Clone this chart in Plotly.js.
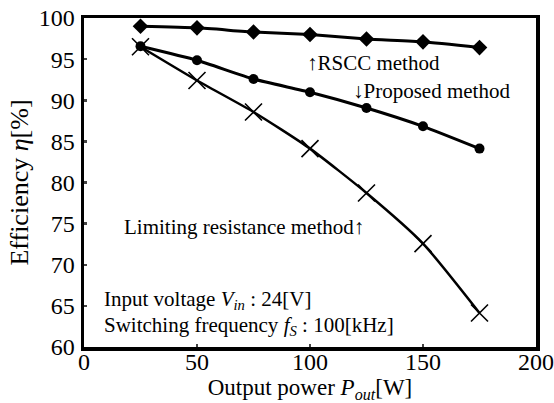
<!DOCTYPE html>
<html><head><meta charset="utf-8">
<script src="https://cdn.plot.ly/plotly-3.0.1.min.js"></script>
<style>html,body{margin:0;padding:0;background:#fff}#chart{width:554px;height:403px}</style>
</head><body><div id="chart"></div>
<script>
const power = [25, 50, 75, 100, 125, 150, 175];
const rsccEff = [99.0, 98.8, 98.3, 98.0, 97.45, 97.1, 96.4];
const proposedEff = [96.56, 94.86, 92.58, 90.97, 89.06, 86.83, 84.12];
const limitingEff = [96.5, 92.4, 88.57, 84.12, 78.72, 72.57, 64.13];
const xTicks = [0, 50, 100, 150, 200];
const yTicks = [60, 65, 70, 75, 80, 85, 90, 95, 100];

const FONT = 'Liberation Serif';
const traces = [
  {x: power, y: limitingEff, mode: 'lines+markers', line: {color: '#000', width: 2.5, shape: 'spline', smoothing: 0.6},
   marker: {symbol: 'x-thin-open', size: 17, color: '#000', line: {color: '#000', width: 1.6}}, name: 'Limiting resistance method'},
  {x: power, y: proposedEff, mode: 'lines+markers', line: {color: '#000', width: 3, shape: 'spline', smoothing: 0.5},
   marker: {symbol: 'circle', size: 10, color: '#000'}, name: 'Proposed method'},
  {x: power, y: rsccEff, mode: 'lines+markers', line: {color: '#000', width: 3, shape: 'spline', smoothing: 0.5},
   marker: {symbol: 'diamond', size: 12, color: '#000'}, name: 'RSCC method'}
];
const annFont = {family: FONT, size: 21, color: '#000'};
const layout = {
  width: 554, height: 403,
  margin: {l: 84, r: 18, t: 18, b: 56, pad: 0},
  paper_bgcolor: '#fff', plot_bgcolor: '#fff',
  showlegend: false,
  font: {family: FONT, color: '#000'},
  xaxis: {range: [0, 200], tickvals: xTicks, ticktext: xTicks.map(String), ticks: 'inside', ticklen: 3, tickwidth: 2.5,
    showline: true, linewidth: 3.5, linecolor: '#000', mirror: true, showgrid: false, zeroline: false,
    ticklabelstandoff: -9,
    tickfont: {family: FONT, size: 24, color: '#000'},
    title: {text: 'Output power <i>P<sub>out</sub></i>[W]', font: {family: FONT, size: 23, color: '#000'}, standoff: 3}},
  yaxis: {range: [60, 100], tickvals: yTicks, ticktext: yTicks.map(String), ticks: 'inside', ticklen: 3, tickwidth: 2.5,
    showline: true, linewidth: 3.5, linecolor: '#000', mirror: true, showgrid: false, zeroline: false,
    ticklabelstandoff: 1,
    tickfont: {family: FONT, size: 24, color: '#000'},
    title: {text: 'Efficiency <i>η</i>[%]', font: {family: FONT, size: 26, color: '#000'}, standoff: 3}},
  annotations: [
    {text: '↑RSCC method', x: 305, y: 63, xanchor: 'left', yanchor: 'middle', showarrow: false, font: annFont},
    {text: '↓Proposed method', x: 351, y: 91, xanchor: 'left', yanchor: 'middle', showarrow: false, font: annFont},
    {text: 'Limiting resistance method↑', x: 122, y: 227, xanchor: 'left', yanchor: 'middle', showarrow: false, font: annFont},
    {text: 'Input voltage <i>V<sub>in</sub></i> : 24[V]', x: 102, y: 300, xanchor: 'left', yanchor: 'middle', showarrow: false, font: annFont},
    {text: 'Switching frequency <i>f<sub>S</sub></i> : 100[kHz]', x: 102, y: 326, xanchor: 'left', yanchor: 'middle', showarrow: false, font: annFont}
  ]
};
const pl = layout.margin.l, pt = layout.margin.t;
const pw = 554 - layout.margin.l - layout.margin.r, ph = 403 - layout.margin.t - layout.margin.b;
layout.annotations.forEach(a => { a.xref = 'paper'; a.yref = 'paper'; a.x = (a.x - pl) / pw; a.y = 1 - (a.y - pt) / ph; });
Plotly.newPlot('chart', traces, layout, {staticPlot: true, displayModeBar: false});
</script></body></html>
